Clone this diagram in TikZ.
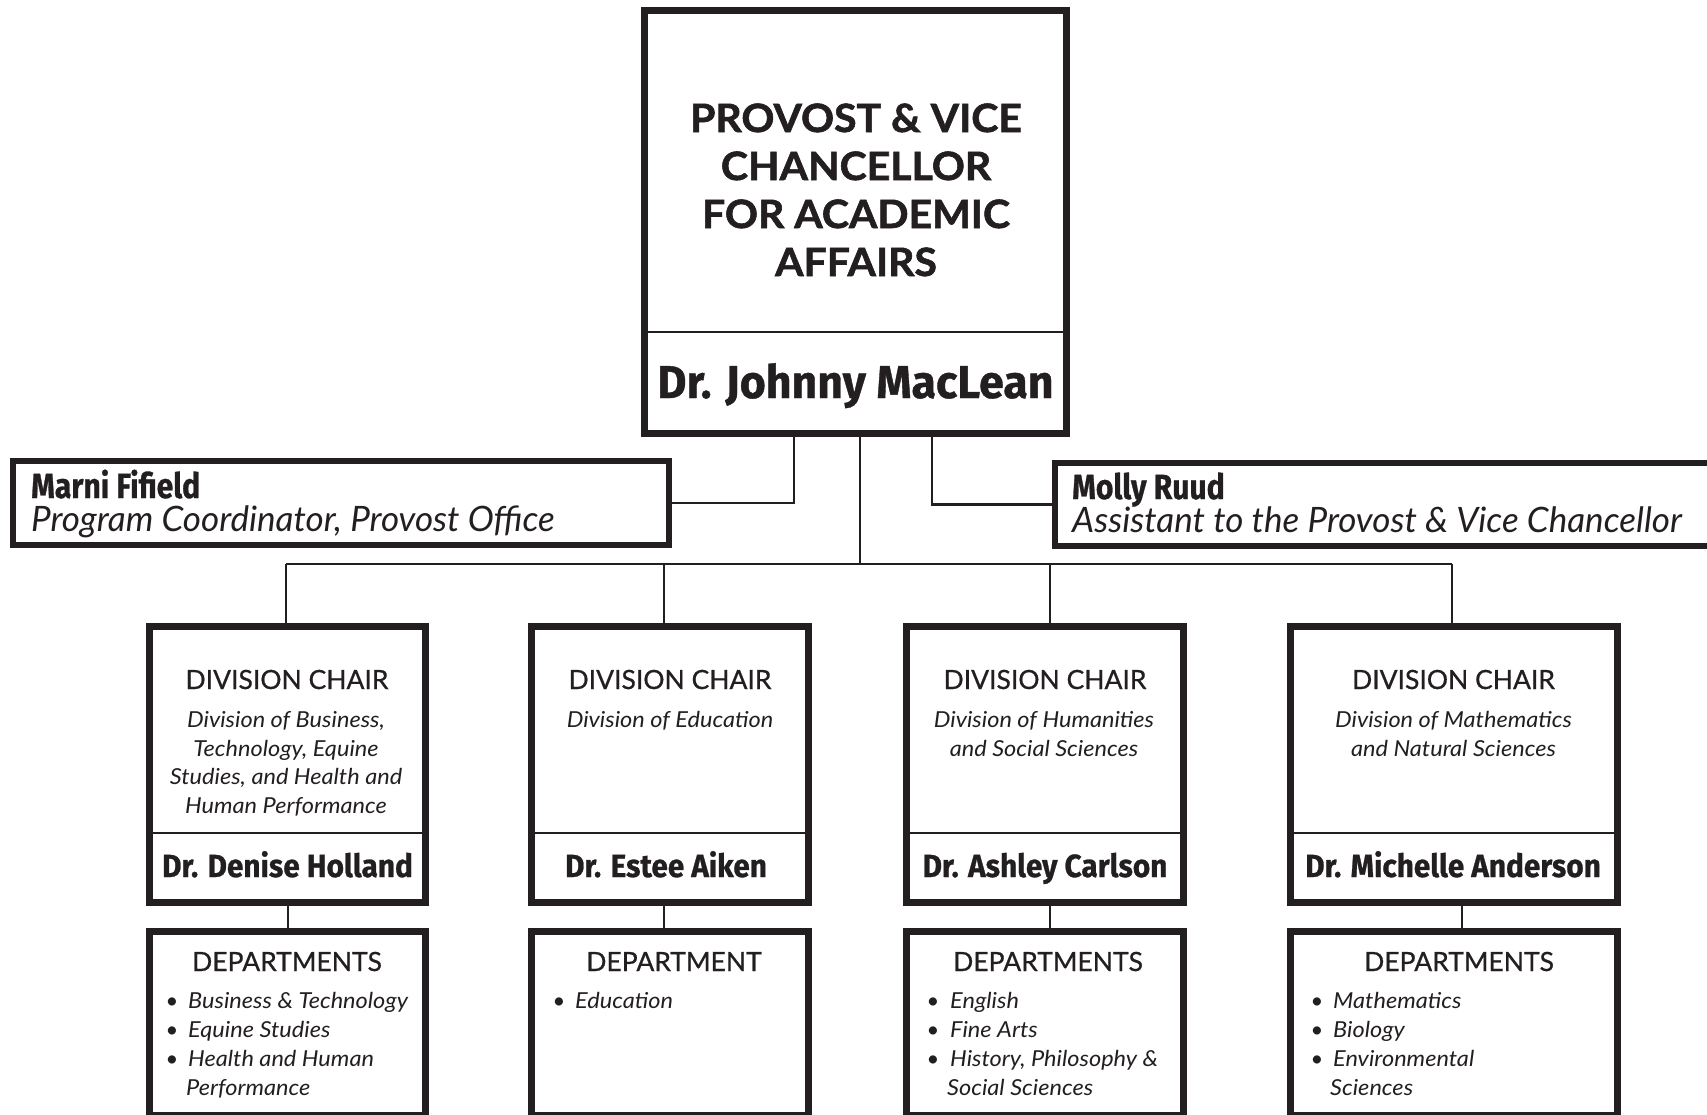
\documentclass[tikz,border=0pt]{standalone}
\usepackage{fontspec}
\setmainfont{Lato}
\newfontfamily\namefontA{Fira Sans}[UprightFont=* Bold, FakeStretch=0.97, FakeBold=0.8]
\newfontfamily\namefontB{Fira Sans}[UprightFont=* Bold, FakeStretch=0.93, FakeBold=0.8]
\newfontfamily\namefontC{Fira Sans}[UprightFont=* Bold, FakeStretch=0.86, FakeBold=0.8]
\newfontfamily\titlefont{Lato}[FakeStretch=1.05, BoldFeatures={FakeBold=1.5}]
\newfontfamily\headfont{Lato}[FakeBold=0.7]
\newfontfamily\itfont{Lato}[FakeStretch=1.07]
\definecolor{ink}{RGB}{35,31,32}
\tikzset{
  heavybox/.style={rectangle, draw=ink, line width=7pt, fill=white, inner sep=0pt},
  midbox/.style={rectangle, draw=ink, line width=6pt, fill=white, inner sep=0pt},
  conn/.style={draw=ink, line width=2.2pt},
  divline/.style={draw=ink, line width=2pt},
  txt/.style={text=ink, inner sep=0pt, anchor=base},
  titlef/.style={txt, font=\titlefont\fontsize{39}{48}\selectfont\bfseries},
  bignamef/.style={txt, font=\namefontA\fontsize{46}{50}\selectfont},
  staffname/.style={txt, anchor=base west, font=\namefontC\fontsize{35}{40}\selectfont},
  staffrole/.style={txt, anchor=base west, font=\fontsize{35}{40}\selectfont\itshape},
  headf/.style={txt, font=\headfont\fontsize{26.5}{30}\selectfont},
  divf/.style={txt, font=\itfont\fontsize{22}{29}\selectfont\itshape},
  namef/.style={txt, font=\namefontB\fontsize{32}{36}\selectfont},
  itemf/.style={txt, anchor=base west, font=\itfont\fontsize{22}{29}\selectfont\itshape},
  bulletf/.style={txt, font=\fontsize{22}{29}\selectfont},
}
\begin{document}
\begin{tikzpicture}[x=1pt,y=-1pt]
\path[use as bounding box] (0,0) rectangle (1707,1114);
\clip (0,0) rectangle (1707,1114);
\fill[white] (0,0) rectangle (1707,1114);

% ---- boxes ----
\node[heavybox, minimum width=422pt, minimum height=423pt] (top) at (855.5,222) {};
\node[midbox, minimum width=656pt, minimum height=84pt] (marni) at (341,503) {};
\node[midbox, minimum width=702pt, minimum height=83pt] (molly) at (1406,504.5) {};

\node[heavybox, minimum width=276pt, minimum height=276pt] (d1) at (287.5,764.5) {};
\node[heavybox, minimum width=277pt, minimum height=276pt] (d2) at (670,764.5) {};
\node[heavybox, minimum width=277pt, minimum height=276pt] (d3) at (1045,764.5) {};
\node[heavybox, minimum width=327pt, minimum height=276pt] (d4) at (1454,764.5) {};

\node[heavybox, minimum width=276pt, minimum height=184pt] (p1) at (287.5,1023.5) {};
\node[heavybox, minimum width=277pt, minimum height=184pt] (p2) at (670,1023.5) {};
\node[heavybox, minimum width=277pt, minimum height=184pt] (p3) at (1045,1023.5) {};
\node[heavybox, minimum width=327pt, minimum height=184pt] (p4) at (1454,1023.5) {};

% dividers inside boxes
\draw[divline] (top.west |- 0,332) -- (top.east |- 0,332);
\foreach \b in {d1,d2,d3,d4} {
  \draw[divline] (\b.west |- 0,833) -- (\b.east |- 0,833);
}

% ---- connectors ----
\draw[conn] (top.south -| 794,0) |- (marni.east);
\draw[conn] (top.south -| 932,0) |- (molly.west);
\draw[conn] (top.south -| 860,0) -- (860,564);
\draw[conn] (286,564) -- (1452,564);
\draw[conn] (d1.north -| 286,0) -- (286,564);
\draw[conn] (d2.north -| 664,0) -- (664,564);
\draw[conn] (d3.north -| 1050,0) -- (1050,564);
\draw[conn] (d4.north -| 1452,0) -- (1452,564);
\draw[conn] (d1.south -| 288,0) -- (p1.north -| 288,0);
\draw[conn] (d2.south -| 664,0) -- (p2.north -| 664,0);
\draw[conn] (d3.south -| 1050,0) -- (p3.north -| 1050,0);
\draw[conn] (d4.south -| 1462,0) -- (p4.north -| 1462,0);

% ---- top box text ----
\node[titlef] (t1) at (856,132) {PROVOST \& VICE};
\node[titlef] (t2) at (856,180) {CHANCELLOR};
\node[titlef] (t3) at (856,228) {FOR ACADEMIC};
\node[titlef] (t4) at (856,276) {AFFAIRS};
\node[bignamef] (tn) at (855.5,398) {Dr. Johnny MacLean};

% ---- staff ----
\node[staffname] (mn) at (31,498) {Marni Fifield};
\node[staffrole] (mr) at (31,531) {Program Coordinator, Provost Office};
\node[staffname] (yn) at (1072,499) {Molly Ruud};
\node[staffrole] (yr) at (1072,532) {Assistant to the Provost \& Vice Chancellor};

% ---- division 1 ----
\node[headf] (h1) at (287,689) {DIVISION CHAIR};
\node[divf] (a1) at (286,727) {Division of Business,};
\node[divf] (a2) at (286,756) {Technology, Equine};
\node[divf] (a3) at (286,784) {Studies, and Health and};
\node[divf] (a4) at (286,813) {Human Performance};
\node[namef] (n1) at (287.5,877) {Dr. Denise Holland};
\node[headf] (e1) at (287,971) {DEPARTMENTS};
\node[bulletf] (b11) at (172,1008) {•};
\node[itemf] (i11) at (188,1008) {Business \& Technology};
\node[bulletf] (b12) at (172,1037.5) {•};
\node[itemf] (i12) at (188,1037.5) {Equine Studies};
\node[bulletf] (b13) at (172,1066.5) {•};
\node[itemf] (i13) at (188,1066.5) {Health and Human};
\node[itemf] (i14) at (186,1095) {Performance};

% ---- division 2 ----
\node[headf] (h2) at (670,689) {DIVISION CHAIR};
\node[divf] (c1) at (670,727) {Division of Education};
\node[namef] (n2) at (666,877) {Dr. Estee Aiken};
\node[headf] (e2) at (674,971) {DEPARTMENT};
\node[bulletf] (b21) at (559,1008) {•};
\node[itemf] (i21) at (575,1008) {Education};

% ---- division 3 ----
\node[headf] (h3) at (1045,689) {DIVISION CHAIR};
\node[divf] (g1) at (1044,727) {Division of Humanities};
\node[divf] (g2) at (1044,756) {and Social Sciences};
\node[namef] (n3) at (1045,877) {Dr. Ashley Carlson};
\node[headf] (e3) at (1048,971) {DEPARTMENTS};
\node[bulletf] (b31) at (933,1008) {•};
\node[itemf] (i31) at (950,1008) {English};
\node[bulletf] (b32) at (933,1037.5) {•};
\node[itemf] (i32) at (950,1037.5) {Fine Arts};
\node[bulletf] (b33) at (933,1066.5) {•};
\node[itemf] (i33) at (950,1066.5) {History, Philosophy \&};
\node[itemf] (i34) at (947,1095) {Social Sciences};

% ---- division 4 ----
\node[headf] (h4) at (1453.5,689) {DIVISION CHAIR};
\node[divf] (k1) at (1453.5,727) {Division of Mathematics};
\node[divf] (k2) at (1453.5,756) {and Natural Sciences};
\node[namef] (n4) at (1453,877) {Dr. Michelle Anderson};
\node[headf] (e4) at (1459,971) {DEPARTMENTS};
\node[bulletf] (b41) at (1317,1008) {•};
\node[itemf] (i41) at (1333,1008) {Mathematics};
\node[bulletf] (b42) at (1317,1037.5) {•};
\node[itemf] (i42) at (1333,1037.5) {Biology};
\node[bulletf] (b43) at (1317,1066.5) {•};
\node[itemf] (i43) at (1333,1066.5) {Environmental};
\node[itemf] (i44) at (1330,1095) {Sciences};
\end{tikzpicture}
\end{document}
